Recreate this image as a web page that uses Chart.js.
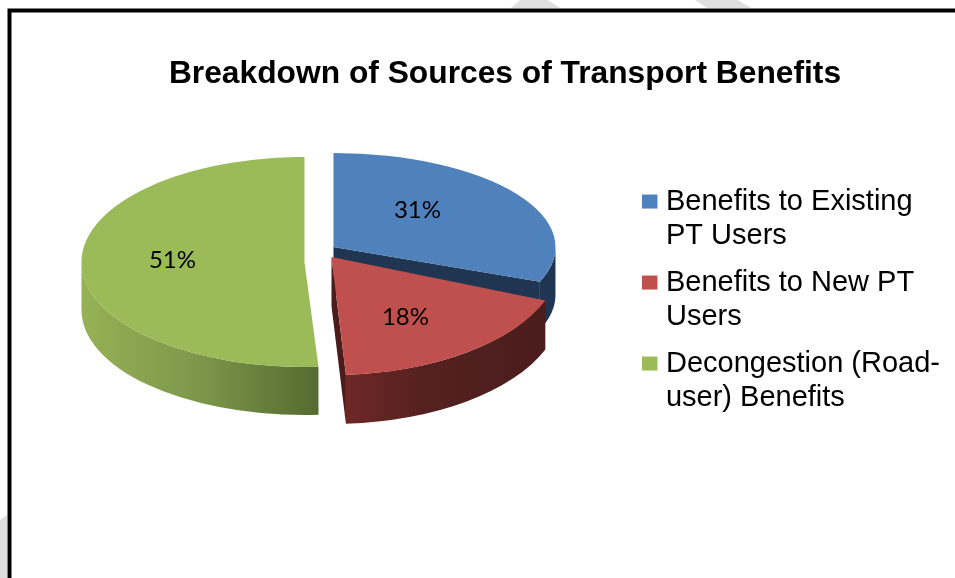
<!DOCTYPE html>
<html>
<head>
<meta charset="utf-8">
<title>Breakdown of Sources of Transport Benefits</title>
<script src="https://cdn.jsdelivr.net/npm/chart.js@4/dist/chart.umd.min.js"></script>
<style>
  html, body { margin: 0; padding: 0; background: #fff; overflow: hidden; }
  canvas { display: block; }
</style>
</head>
<body>
<canvas id="myChart" width="955" height="578"></canvas>
<script>
const titleText = 'Breakdown of Sources of Transport Benefits';
const categories = [
  ['Benefits to Existing', 'PT Users'],
  ['Benefits to New PT', 'Users'],
  ['Decongestion (Road-', 'user) Benefits']
];
const shares = [31, 18, 51];
const sliceColors = ['#4F81BD', '#C0504D', '#9BBB59'];

// how each slice is tilted and pulled out of the pie (dx, dy from the chart's centre)
const sliceViews = [
  { dx: -14, dy: -55, rx: 222, ry: 94, depth: 48, label: [84, -37], cutFace: '#1F3552',
    wall: [[0, '#1F3552'], [1, '#1F3552']] },
  { dx: -16, dy: -45, rx: 230, ry: 118, depth: 49, label: [74, 60], cutFace: '#4A1C1C',
    wall: [[0, '#6E2826'], [0.35, '#552120'], [1, '#4A1C1C']] },
  { dx: -43, dy: -40, rx: 223, ry: 105, depth: 48, label: [-132, -2], cutFace: null,
    wall: [[0, '#95B256'], [0.5, '#7C974A'], [1, '#556A30']] }
];
const drawOrder = [0, 2, 1];

function ellipsePoint(cx, cy, view, angle) {
  return [cx + view.rx * Math.cos(angle), cy + view.ry * Math.sin(angle)];
}

// side of the slice, only the part that faces the viewer
function drawWall(ctx, cx, cy, view, arc) {
  const from = Math.max(arc.startAngle, 0);
  const to = Math.min(arc.endAngle, Math.PI);
  if (to <= from) return;

  const left = ellipsePoint(cx, cy, view, to)[0];
  const right = to > Math.PI / 2 && from < Math.PI / 2 ? ellipsePoint(cx, cy, view, from)[0] : cx + view.rx;
  const gradient = ctx.createLinearGradient(Math.min(left, right), 0, Math.max(left, right), 0);
  view.wall.forEach(stop => gradient.addColorStop(stop[0], stop[1]));

  ctx.fillStyle = gradient;
  ctx.beginPath();
  ctx.ellipse(cx, cy, view.rx, view.ry, 0, from, to);
  ctx.ellipse(cx, cy + view.depth, view.rx, view.ry, 0, to, from, true);
  ctx.closePath();
  ctx.fill();
}

function drawCutFace(ctx, cx, cy, view, arc) {
  if (!view.cutFace) return;
  const end = ellipsePoint(cx, cy, view, arc.endAngle);
  ctx.fillStyle = view.cutFace;
  ctx.beginPath();
  ctx.moveTo(cx, cy);
  ctx.lineTo(end[0], end[1]);
  ctx.lineTo(end[0], end[1] + view.depth);
  ctx.lineTo(cx, cy + view.depth);
  ctx.closePath();
  ctx.fill();
}

// frame of the page and the grey scraps of the watermark around it
const pageFrame = {
  id: 'pageFrame',
  beforeDraw(chart) {
    const ctx = chart.ctx;
    ctx.save();
    ctx.fillStyle = '#DFDFDF';
    [
      [[520, 0], [548, 0], [560, 8], [511, 8]],
      [[695, 0], [738, 0], [751, 8], [707, 8]],
      [[0, 520], [7, 515], [7, 578], [0, 578]]
    ].forEach(points => {
      ctx.beginPath();
      points.forEach(p => ctx.lineTo(p[0], p[1]));
      ctx.closePath();
      ctx.fill();
    });
    ctx.strokeStyle = '#000';
    ctx.lineWidth = 4;
    ctx.strokeRect(9.5, 10.5, 1000, 700);
    ctx.restore();
  }
};

// draws the arcs of the library squashed into a tilted pie with a side wall
const tiltedPie = {
  id: 'tiltedPie',
  beforeDatasetDraw(chart, args) {
    const ctx = chart.ctx;
    const arcs = args.meta.data;

    drawOrder.forEach(i => {
      const arc = arcs[i];
      const view = sliceViews[i];
      const cx = arc.x + view.dx;
      const cy = arc.y + view.dy;

      drawCutFace(ctx, cx, cy, view, arc);
      drawWall(ctx, cx, cy, view, arc);

      ctx.save();
      ctx.translate(cx, cy);
      ctx.scale(view.rx / arc.outerRadius, view.ry / arc.outerRadius);
      ctx.translate(-arc.x, -arc.y);
      arc.draw(ctx);
      ctx.restore();
    });

    ctx.save();
    ctx.fillStyle = '#000';
    ctx.font = '24px Lato';
    ctx.textAlign = 'center';
    ctx.textBaseline = 'middle';
    drawOrder.forEach(i => {
      const arc = arcs[i];
      const view = sliceViews[i];
      ctx.fillText(shares[i] + '%', arc.x + view.dx + view.label[0], arc.y + view.dy + view.label[1]);
    });
    ctx.restore();
    return false;
  }
};

const ctx = document.getElementById('myChart').getContext('2d');

new Chart(ctx, {
  type: 'pie',
  data: {
    labels: categories,
    datasets: [{
      data: shares,
      backgroundColor: sliceColors,
      borderWidth: 0
    }]
  },
  options: {
    responsive: false,
    animation: false,
    layout: {
      padding: { left: 60, right: 5, bottom: 87 }
    },
    plugins: {
      tooltip: { enabled: false },
      title: {
        display: true,
        text: titleText,
        color: '#000',
        font: { family: 'Liberation Sans', size: 31.75, weight: 'bold' },
        padding: { top: 55, bottom: 20 }
      },
      legend: {
        position: 'right',
        fullSize: false,
        labels: {
          color: '#000',
          font: { family: 'Liberation Sans', size: 29, lineHeight: 34 / 29 },
          padding: 13,
          boxWidth: 3.5,
          boxHeight: 2,
          // a thick same-coloured border makes the box look bigger and closer to the text
          generateLabels(chart) {
            return Chart.overrides.pie.plugins.legend.labels.generateLabels(chart).map((item, i) => {
              item.strokeStyle = sliceColors[i];
              item.lineWidth = 12;
              return item;
            });
          }
        }
      }
    }
  },
  plugins: [pageFrame, tiltedPie]
});
</script>
</body>
</html>
